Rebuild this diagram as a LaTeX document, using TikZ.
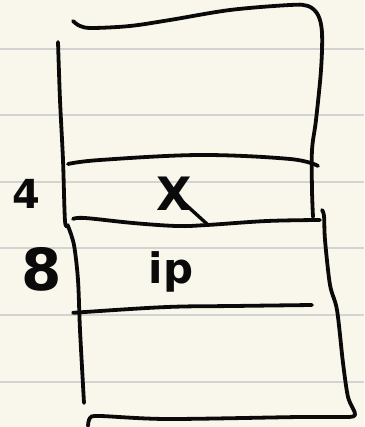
\documentclass[tikz,border=0pt]{standalone}
\usepackage{fontspec}
\setmainfont{DejaVu Sans}
\definecolor{paper}{HTML}{F9F7EB}
\definecolor{rule}{HTML}{D3D3D1}
\definecolor{ink}{HTML}{0A0A0A}
\begin{document}
\begin{tikzpicture}[x=1pt,y=-1pt,
  pen/.style={draw=ink,line width=3.8pt,line cap=round,line join=round},
  ruling/.style={draw=rule,line width=2pt},
  hand/.style={text=ink,inner sep=0pt,font=\bfseries\fontsize{#1}{#1}\selectfont}]
\fill[paper] (0,0) rectangle (364,427);
\useasboundingbox (0,0) rectangle (364,427);
% ruled paper lines
\foreach \y in {49,115,182,248,315,382} \draw[ruling] (0,\y) -- (364,\y);
% top + upper right side
\draw[pen] plot[smooth,tension=0.55] coordinates {(73,21) (80,26) (92,28) (130,26) (170,20) (230,10) (290,5) (308,6) (318,15) (322,33) (321,70) (316,120) (312,150) (312,190) (313,217)};
% left side upper
\draw[pen] plot[smooth,tension=0.5] coordinates {(58,42) (60,100) (63,160) (65,221) (68,225)};
% left side lower
\draw[pen] plot[smooth,tension=0.5] coordinates {(68,226) (74,245) (78,280) (80,330) (84,403)};
% right lower side + bottom
\draw[pen] plot[smooth,tension=0.5] coordinates {(322,210) (324,216) (325,240) (330,285) (337,310) (343,363) (348,397) (355,415) (340,417) (300,417) (167,419) (100,416) (90,418) (88,426)};
% horizontal separators
\draw[pen] plot[smooth,tension=0.6] coordinates {(68,164) (100,160) (200,155) (290,159) (318,166)};
\draw[pen] plot[smooth,tension=0.6] coordinates {(73,219) (85,218) (133,223) (177,226) (207,225) (267,221) (320,220)};
\draw[pen] plot[smooth,tension=0.6] coordinates {(73,313) (85,312) (167,307) (233,306) (312,305)};
% labels
\node[hand=40] (four) at (26,194) {4};
\node[hand=58] (eight) at (42,269) {8};
\node[hand=46] (x) at (174,194) {X};
\draw[pen,line width=3.4pt] (x.center) -- (207,224);
\node[hand=42] (ip) at (171,272) {ip};
\end{tikzpicture}
\end{document}
